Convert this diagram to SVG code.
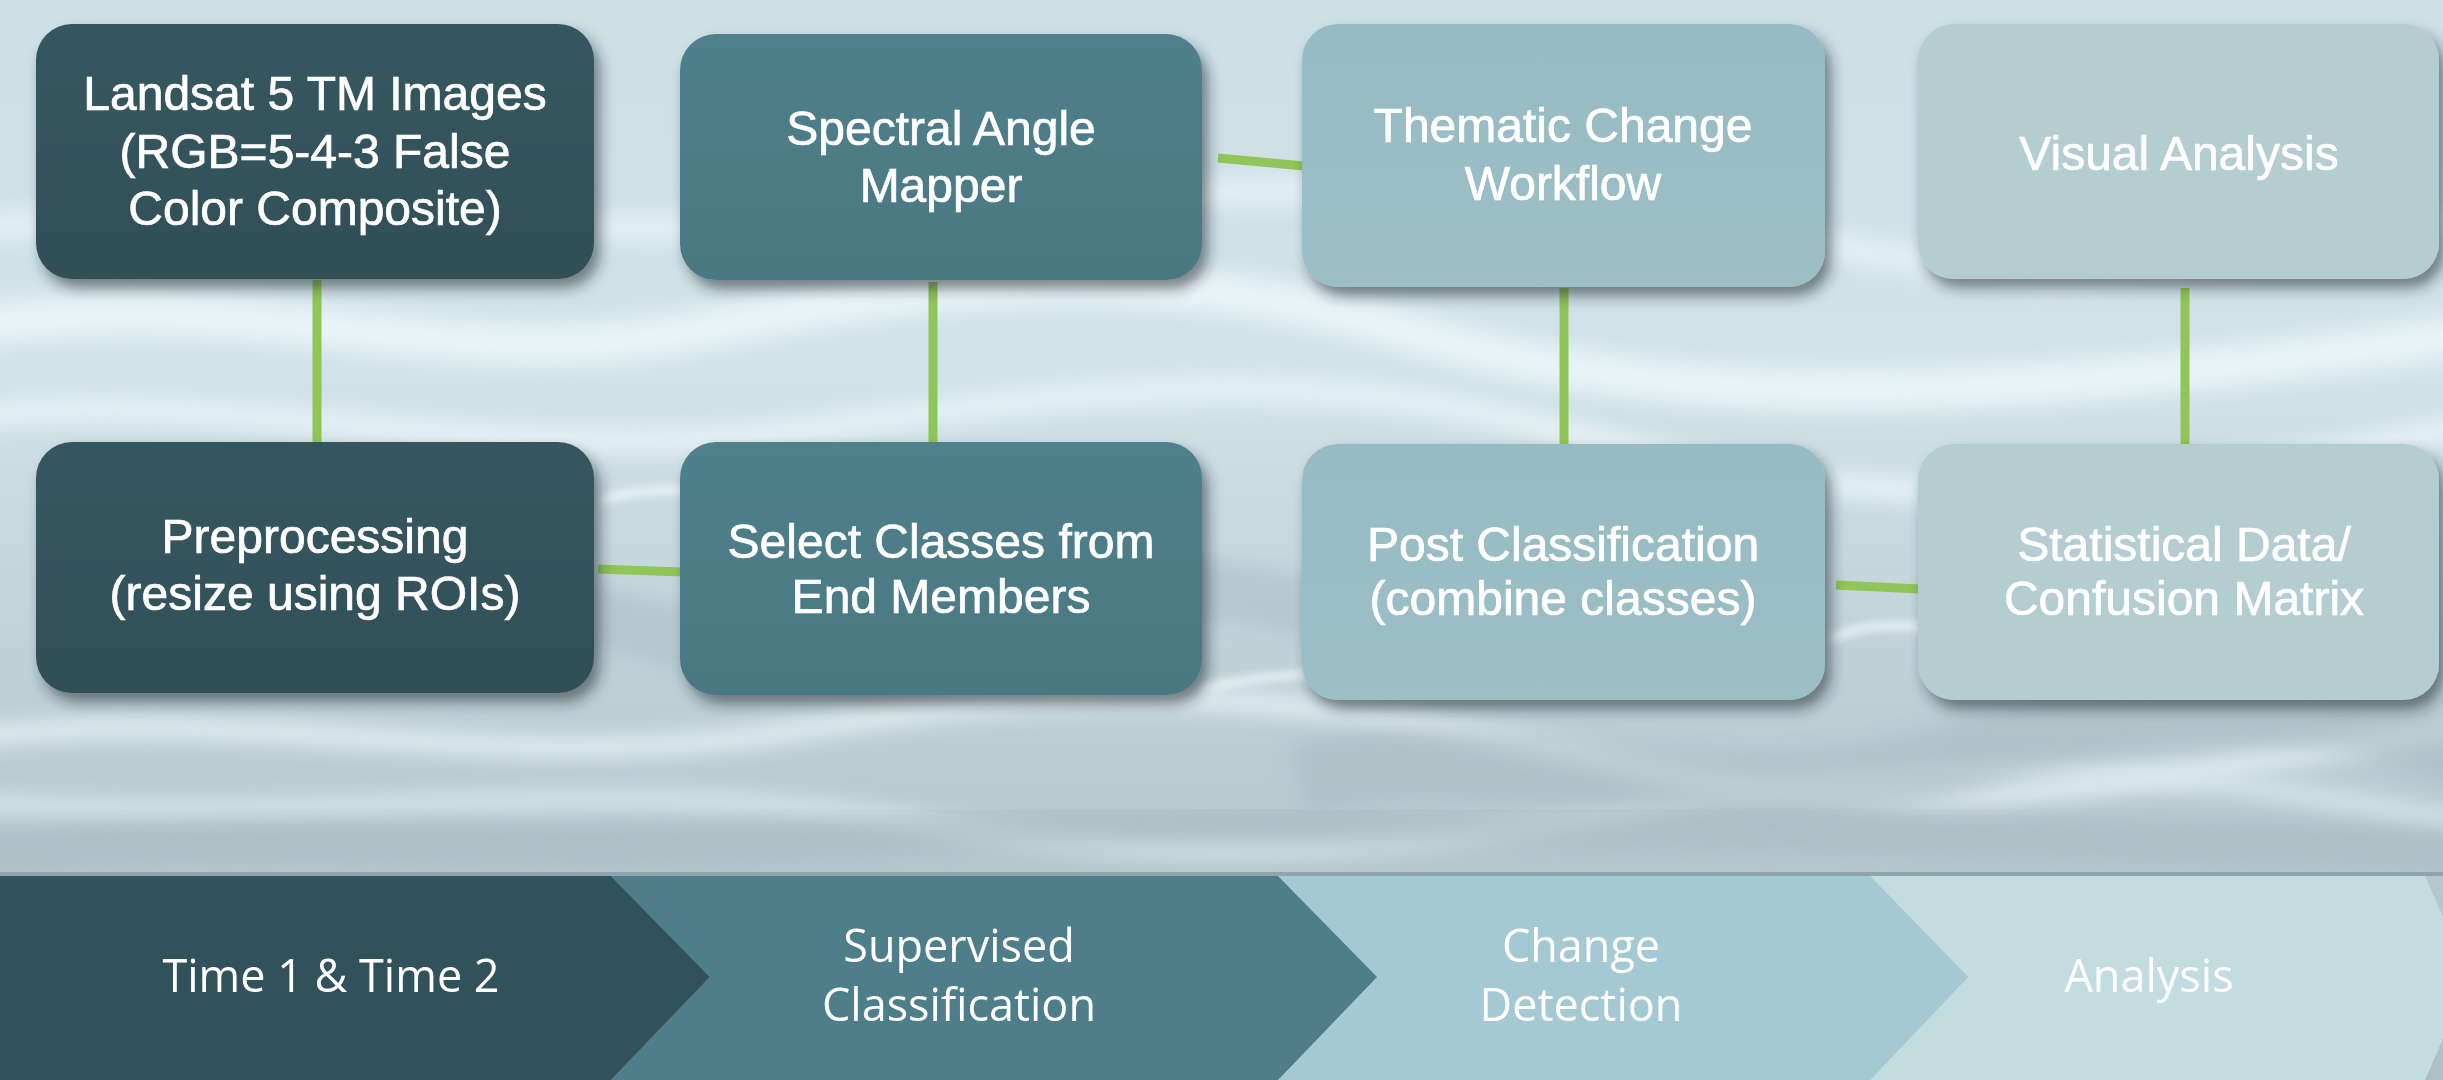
<svg xmlns="http://www.w3.org/2000/svg" width="2443" height="1080" viewBox="0 0 2443 1080">
  <defs>
    <linearGradient id="bg" x1="0" y1="0" x2="0" y2="1">
      <stop offset="0" stop-color="#cde0e6"/>
      <stop offset="0.35" stop-color="#d1e3e9"/>
      <stop offset="0.65" stop-color="#bccfd5"/>
      <stop offset="1" stop-color="#adbfc5"/>
    </linearGradient>
    <filter id="blur" x="-10%" y="-50%" width="120%" height="200%">
      <feGaussianBlur stdDeviation="10"/>
    </filter>
    <filter id="blur2" x="-10%" y="-50%" width="120%" height="200%">
      <feGaussianBlur stdDeviation="4"/>
    </filter>
    <filter id="shadow" x="-10%" y="-10%" width="125%" height="130%">
      <feDropShadow dx="6" dy="9" stdDeviation="7" flood-color="#1c2c30" flood-opacity="0.55"/>
    </filter>
    <linearGradient id="g1" x1="0" y1="0" x2="0" y2="1">
      <stop offset="0" stop-color="#365760"/>
      <stop offset="1" stop-color="#324f57"/>
    </linearGradient>
    <linearGradient id="g2" x1="0" y1="0" x2="0" y2="1">
      <stop offset="0" stop-color="#4f808b"/>
      <stop offset="1" stop-color="#4a7882"/>
    </linearGradient>
    <linearGradient id="g3" x1="0" y1="0" x2="0" y2="1">
      <stop offset="0" stop-color="#97bbc3"/>
      <stop offset="1" stop-color="#9cbfc6"/>
    </linearGradient>
    <linearGradient id="g4" x1="0" y1="0" x2="0" y2="1">
      <stop offset="0" stop-color="#b3cdd1"/>
      <stop offset="1" stop-color="#b5cdd1"/>
    </linearGradient>
    <style>
      .box { filter: url(#shadow); }
      .t { font-family: "Liberation Sans", Arial, sans-serif; font-size: 48px; fill: #ffffff; stroke: #ffffff; stroke-width: 0.7px; text-anchor: middle; }
      .bt { font-family: "Open Sans", "Noto Sans", sans-serif; font-size: 45px; fill: #ffffff; text-anchor: middle; }
      .conn { stroke: #8fc657; stroke-width: 9; fill: none; }
    </style>
  </defs>

  <!-- water background -->
  <rect x="0" y="0" width="2443" height="1080" fill="url(#bg)"/>
  <g opacity="0.85">
    <path d="M-50,330 C250,280 450,380 700,330 S1150,260 1400,330 S1900,420 2500,330" stroke="#eef7fa" stroke-width="40" fill="none" filter="url(#blur)"/>
    <path d="M-50,420 C200,380 500,470 800,430 S1300,360 1600,440 S2100,500 2500,420" stroke="#e8f3f6" stroke-width="26" fill="none" filter="url(#blur)"/>
    <path d="M-50,230 C300,200 600,250 900,215 S1500,180 1800,240 S2200,260 2500,210" stroke="#e4f0f4" stroke-width="30" fill="none" filter="url(#blur)"/>
    <path d="M-50,740 C250,700 500,780 800,730 S1300,690 1600,760 S2100,790 2500,720" stroke="#e6f1f4" stroke-width="22" fill="none" filter="url(#blur)"/>
    <path d="M-50,800 C300,830 600,770 900,820 S1400,850 1700,800 S2200,770 2500,830" stroke="#dfecf0" stroke-width="18" fill="none" filter="url(#blur)"/>
    <path d="M400,620 C600,560 700,700 900,640 S1200,560 1400,640" stroke="#a9bcc3" stroke-width="60" fill="none" filter="url(#blur)" opacity="0.6"/>
    <path d="M1300,780 C1500,720 1700,840 1950,760 S2300,700 2500,760" stroke="#a7b9c0" stroke-width="70" fill="none" filter="url(#blur)" opacity="0.6"/>
    <path d="M-50,860 C200,820 500,860 800,840 S1400,820 2500,850" stroke="#a6b8be" stroke-width="40" fill="none" filter="url(#blur)" opacity="0.6"/>
    <path d="M600,500 C700,470 800,520 900,480" stroke="#f2f9fb" stroke-width="8" fill="none" filter="url(#blur2)"/>
    <path d="M1200,690 C1350,650 1500,700 1650,660" stroke="#f2f9fb" stroke-width="8" fill="none" filter="url(#blur2)"/>
    <path d="M1830,640 C1900,600 2000,660 2100,620" stroke="#f2f9fb" stroke-width="8" fill="none" filter="url(#blur2)"/>
    <path d="M100,680 C200,650 300,700 420,660" stroke="#f2f9fb" stroke-width="8" fill="none" filter="url(#blur2)"/>
  </g>

  <!-- connectors -->
  <g id="connectors">
    <line class="conn" x1="317" y1="280" x2="317" y2="444"/>
    <line class="conn" x1="598" y1="569" x2="682" y2="572"/>
    <line class="conn" x1="933" y1="282" x2="933" y2="444"/>
    <line class="conn" x1="1218" y1="158" x2="1304" y2="166"/>
    <line class="conn" x1="1564" y1="288" x2="1564" y2="446"/>
    <line class="conn" x1="2185" y1="288" x2="2185" y2="446"/>
    <line class="conn" x1="1836" y1="585" x2="1920" y2="589"/>
  </g>

  <!-- nodes -->
  <g id="node-landsat">
    <rect class="box" x="36" y="24" width="558" height="255" rx="36" fill="url(#g1)"/>
    <text class="t" x="315" y="110">Landsat 5 TM Images</text>
    <text class="t" x="315" y="168">(RGB=5-4-3 False</text>
    <text class="t" x="315" y="225">Color Composite)</text>
  </g>
  <g id="node-sam">
    <rect class="box" x="680" y="34" width="522" height="246" rx="36" fill="url(#g2)"/>
    <text class="t" x="941" y="145">Spectral Angle</text>
    <text class="t" x="941" y="202">Mapper</text>
  </g>
  <g id="node-thematic">
    <rect class="box" x="1302" y="24" width="523" height="263" rx="36" fill="url(#g3)"/>
    <text class="t" x="1563" y="142">Thematic Change</text>
    <text class="t" x="1563" y="200">Workflow</text>
  </g>
  <g id="node-visual">
    <rect class="box" x="1918" y="24" width="521" height="255" rx="36" fill="url(#g4)"/>
    <text class="t" x="2179" y="170">Visual Analysis</text>
  </g>
  <g id="node-preprocessing">
    <rect class="box" x="36" y="442" width="558" height="251" rx="36" fill="url(#g1)"/>
    <text class="t" x="315" y="553">Preprocessing</text>
    <text class="t" x="315" y="610">(resize using ROIs)</text>
  </g>
  <g id="node-select">
    <rect class="box" x="680" y="442" width="522" height="253" rx="36" fill="url(#g2)"/>
    <text class="t" x="941" y="558">Select Classes from</text>
    <text class="t" x="941" y="613">End Members</text>
  </g>
  <g id="node-post">
    <rect class="box" x="1302" y="444" width="523" height="256" rx="36" fill="url(#g3)"/>
    <text class="t" x="1563" y="561">Post Classification</text>
    <text class="t" x="1563" y="615">(combine classes)</text>
  </g>
  <g id="node-statistical">
    <rect class="box" x="1918" y="444" width="521" height="256" rx="36" fill="url(#g4)"/>
    <text class="t" x="2184" y="561">Statistical Data/</text>
    <text class="t" x="2184" y="615">Confusion Matrix</text>
  </g>

  <!-- bottom process band -->
  <g id="band">
    <rect x="0" y="872" width="2443" height="4" fill="#8fa5ab"/>
    <g id="stage-analysis">
      <polygon points="1870,876 2425,876 2470,977 2425,1080 1870,1080 1968,977" fill="#c3dce0"/>
      <text class="bt" x="2149" y="992">Analysis</text>
    </g>
    <g id="stage-change">
      <polygon points="1278,876 1870,876 1968,977 1870,1080 1278,1080 1377,977" fill="#a4c9d2"/>
      <text class="bt" x="1581" y="962">Change</text>
      <text class="bt" x="1581" y="1021">Detection</text>
    </g>
    <g id="stage-supervised">
      <polygon points="611,876 1278,876 1377,977 1278,1080 611,1080 710,977" fill="#4d7e89"/>
      <text class="bt" x="959" y="962">Supervised</text>
      <text class="bt" x="959" y="1021">Classification</text>
    </g>
    <g id="stage-time">
      <polygon points="0,876 611,876 710,977 611,1080 0,1080" fill="#32525b"/>
      <text class="bt" x="331" y="992">Time 1 &amp; Time 2</text>
    </g>
  </g>
</svg>
